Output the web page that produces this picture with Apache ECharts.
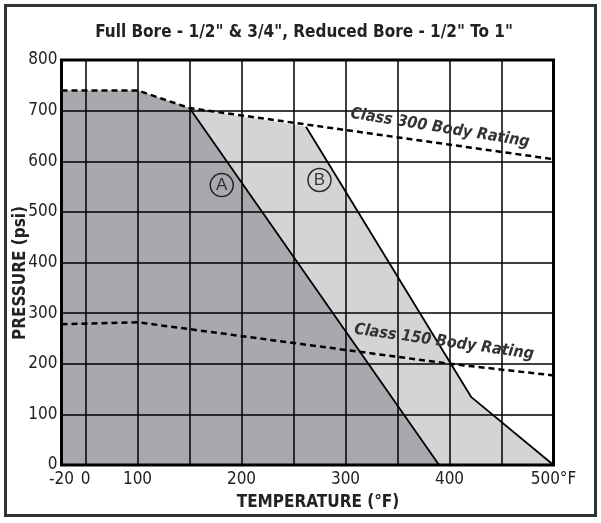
<!DOCTYPE html>
<html><head><meta charset="utf-8">
<script src="https://cdn.jsdelivr.net/npm/echarts@6/dist/echarts.min.js"></script>
<style>html,body{margin:0;padding:0;background:#fff}#c{width:601px;height:523px}</style>
</head><body><div id="c"></div>
<script>
// ---- data (temperature °F, pressure psi) ----
const titleText = 'Full Bore - 1/2" & 3/4", Reduced Bore - 1/2" To 1"';
const xTickTemps = [-20, 0, 100, 200, 300, 400, 500];
const xTickLabels = ['-20', '0', '100', '200', '300', '400', '500°F'];
const xGridTemps = [0, 100, 150, 200, 250, 300, 350, 400, 450];
const yTicks = [0, 100, 200, 300, 400, 500, 600, 700, 800];
const class300 = [[-20, 740], [100, 740], [150, 705], [500, 604]];
const class150 = [[-20, 278], [100, 282], [400, 200], [500, 177]];
const curveA = [[150, 705], [390, 0]];
const curveB = [[262, 668], [421, 134], [500, 0]];
const labelA = [181, 553];
const labelB = [275, 563];

// piecewise temperature scale used by the original drawing
function tx(T) {
  if (T < 0) return T * (24 / 52) / 20;
  if (T <= 100) return T / 100;
  return 1 + (T - 100) / 50;
}
const conv = arr => arr.map(p => [tx(p[0]), p[1]]);
const areaA = conv(class300.filter(p => p[0] < 150).concat(curveA));
const areaB = conv(class300.filter(p => p[0] < 262).concat(curveB));

const FONT = "'Liberation Sans Narrow', 'DejaVu Sans Condensed', 'Liberation Sans', sans-serif";
const chart = echarts.init(document.getElementById('c'), null, {renderer: 'canvas'});
const lineSeries = (data, dashed, z) => ({
  type: 'line', data: conv(data), symbol: 'none', z: z || 4, silent: true,
  lineStyle: {color: '#000', width: dashed ? 2.5 : 1.8, type: dashed ? [6, 4] : 'solid'}
});
chart.setOption({
  animation: false,
  backgroundColor: '#fff',
  grid: {left: 61.5, right: 47.5, top: 60, bottom: 58, show: true, borderColor: '#000', borderWidth: 3, z: 5},
  xAxis: {
    type: 'value', min: tx(-20), max: tx(500), z: 3,
    axisLine: {show: false},
    axisTick: {show: false, customValues: xGridTemps.map(tx)},
    splitLine: {show: true, lineStyle: {color: '#000', width: 1.5}},
    axisLabel: {
      customValues: xTickTemps.map(tx), margin: 6,
      formatter: v => { const i = xTickTemps.findIndex(t => Math.abs(tx(t) - v) < 1e-6); return i >= 0 ? xTickLabels[i] : ''; },
      color: '#222', fontSize: 17, fontFamily: FONT
    }
  },
  yAxis: {
    type: 'value', min: yTicks[0], max: yTicks[yTicks.length - 1], interval: 100, z: 3,
    axisLine: {show: false}, axisTick: {show: false},
    splitLine: {show: true, lineStyle: {color: '#000', width: 1.5}},
    axisLabel: {color: '#222', fontSize: 17, fontFamily: FONT, margin: 4}
  },
  series: [
    {type: 'line', data: areaB, symbol: 'none', z: 1, silent: true, lineStyle: {width: 0}, areaStyle: {color: '#d3d4d6', opacity: 1}},
    {type: 'line', data: areaA, symbol: 'none', z: 1, silent: true, lineStyle: {width: 0}, areaStyle: {color: '#a8a9ac', opacity: 1}},
    lineSeries(curveA, false),
    lineSeries(curveB, false),
    lineSeries(class300, true),
    lineSeries(class150, true),
    {type: 'scatter', z: 6, silent: true, symbol: 'circle', symbolSize: 23,
     data: [{value: [tx(labelA[0]), labelA[1]], name: 'A'}, {value: [tx(labelB[0]), labelB[1]], name: 'B'}],
     itemStyle: {color: 'rgba(0,0,0,0)', borderColor: '#000', borderWidth: 1.5},
     label: {show: true, position: 'inside', formatter: p => p.name, color: '#111', fontSize: 17, fontFamily: "'Liberation Sans', sans-serif"}}
  ],
  graphic: [
    {type: 'rect', shape: {x: 5.5, y: 5.5, width: 590, height: 510}, style: {fill: 'none', stroke: '#333', lineWidth: 3}, z: 10},
    {type: 'text', x: 304, y: 33, style: {text: titleText, textAlign: 'center', textVerticalAlign: 'middle', font: 'bold 17px ' + FONT, fill: '#222'}},
    {type: 'text', x: 318, y: 503, style: {text: 'TEMPERATURE (°F)', textAlign: 'center', textVerticalAlign: 'middle', font: 'bold 17px ' + FONT, fill: '#222'}},
    {type: 'text', x: 21, y: 273, rotation: Math.PI / 2, style: {text: 'PRESSURE (psi)', textAlign: 'center', textVerticalAlign: 'middle', font: 'bold 17px ' + FONT, fill: '#222'}},
    {type: 'text', x: 440, y: 128, rotation: -0.16, z: 8, style: {text: 'Class 300 Body Rating', textAlign: 'center', textVerticalAlign: 'middle', font: 'italic bold 16px ' + FONT, fill: '#333'}},
    {type: 'text', x: 444, y: 342, rotation: -0.14, z: 8, style: {text: 'Class 150 Body Rating', textAlign: 'center', textVerticalAlign: 'middle', font: 'italic bold 16px ' + FONT, fill: '#333'}}
  ]
});
</script></body></html>
